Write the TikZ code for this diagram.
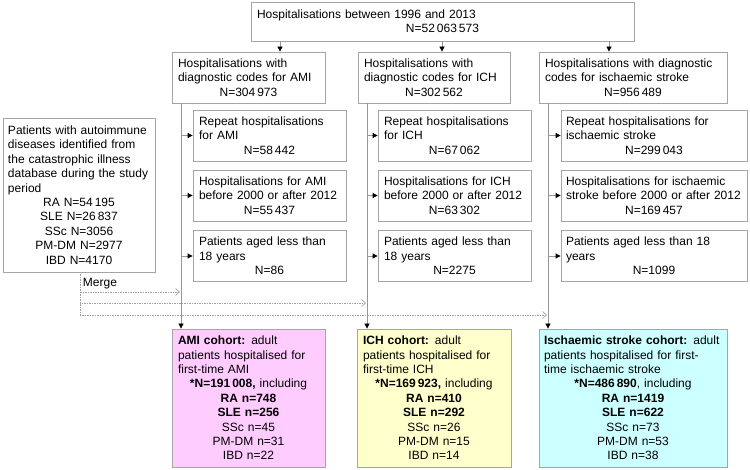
\documentclass[tikz,border=0pt]{standalone}
\usepackage{fontspec}
\setmainfont{Liberation Sans}
\usetikzlibrary{arrows.meta}
\definecolor{boxgray}{RGB}{165,165,165}
\definecolor{linegray}{RGB}{150,150,150}
\definecolor{dashgray}{RGB}{160,160,160}
\definecolor{amifill}{RGB}{255,204,255}
\definecolor{ichfill}{RGB}{255,255,204}
\definecolor{iscfill}{RGB}{204,255,255}
\newcommand\myfs{\fontsize{12}{14.4}\selectfont}
\begin{document}
\begin{tikzpicture}[x=1pt,y=-1pt,
  bx/.style={draw=boxgray, line width=0.8pt, fill=white, inner ysep=0pt, inner xsep=6pt, font=\myfs, anchor=center},
  conn/.style={draw=linegray, line width=0.8pt, -{Triangle[length=5pt,width=5pt,black]}},
  mergeline/.style={draw=dashgray, line width=0.6pt, dash pattern=on 1.5pt off 1pt, -{Straight Barb[length=4pt,width=7pt,line width=0.6pt]}}
]
\useasboundingbox (0,0) rectangle (750,470);

% top box
\node[bx, minimum width=383pt, minimum height=39pt, text width=371pt] (top) at (442.5,21.5)
  {\raggedright Hospitalisations between 1996 and 2013\par\centering N=52\,063\,573\par};

% column boxes
\node[bx, minimum width=153pt, minimum height=51pt, text width=141pt] (ami) at (248.5,77.5)
  {\raggedright Hospitalisations with\\diagnostic codes for AMI\par\centering N=304\,973\par};
\node[bx, minimum width=152pt, minimum height=51pt, text width=140pt] (ich) at (434,77.5)
  {\raggedright Hospitalisations with\\diagnostic codes for ICH\par\centering N=302\,562\par};
\node[bx, minimum width=188pt, minimum height=51pt, text width=176pt] (isc) at (633,77.5)
  {\raggedright Hospitalisations with diagnostic\\codes for ischaemic stroke\par\centering N=956\,489\par};

% sub boxes AMI
\node[bx, minimum width=153pt, minimum height=51pt, text width=141pt] (sa1) at (269.5,135.5)
  {\raggedright Repeat hospitalisations\\for AMI\par\centering N=58\,442\par};
\node[bx, minimum width=153pt, minimum height=51pt, text width=141pt] (sa2) at (269.5,195.5)
  {\raggedright Hospitalisations for AMI\\before 2000 or after 2012\par\centering N=55\,437\par};
\node[bx, minimum width=153pt, minimum height=51pt, text width=141pt] (sa3) at (269.5,256)
  {\raggedright Patients aged less than\\18 years\par\centering N=86\par};

% sub boxes ICH
\node[bx, minimum width=153pt, minimum height=51pt, text width=141pt] (sb1) at (454.5,135.5)
  {\raggedright Repeat hospitalisations\\for ICH\par\centering N=67\,062\par};
\node[bx, minimum width=153pt, minimum height=51pt, text width=141pt] (sb2) at (454.5,195.5)
  {\raggedright Hospitalisations for ICH\\before 2000 or after 2012\par\centering N=63\,302\par};
\node[bx, minimum width=153pt, minimum height=51pt, text width=141pt] (sb3) at (454.5,256)
  {\raggedright Patients aged less than\\18 years\par\centering N=2275\par};

% sub boxes ischaemic stroke
\node[bx, minimum width=186pt, minimum height=51pt, text width=176pt, inner xsep=5pt] (sc1) at (654,135.5)
  {\raggedright Repeat hospitalisations for\\ischaemic stroke\par\centering N=299\,043\par};
\node[bx, minimum width=186pt, minimum height=51pt, text width=176pt, inner xsep=5pt] (sc2) at (654,195.5)
  {\raggedright Hospitalisations for ischaemic\\\mbox{stroke before 2000 or after 2012}\par\centering N=169\,457\par};
\node[bx, minimum width=186pt, minimum height=51pt, text width=176pt, inner xsep=5pt] (sc3) at (654,256)
  {\raggedright Patients aged less than 18\\years\par\centering N=1099\par};

% left box
\node[bx, minimum width=152pt, minimum height=154pt, text width=142pt, inner xsep=5pt] (left) at (79,195)
  {\raggedright Patients with autoimmune\\diseases identified from\\the catastrophic illness\\\mbox{database during the study}\\period\par
   \centering RA N=54\,195\\SLE N=26\,837\\SSc N=3056\\PM-DM N=2977\\IBD N=4170\par};

% cohort boxes
\node[bx, fill=amifill, minimum width=153pt, minimum height=138pt, text width=141pt] (amic) at (248.5,398)
  {\raggedright\textbf{AMI cohort:} adult\\patients hospitalised for\\first-time AMI\par
   \centering\textbf{*N=191\,008,} including\\\textbf{RA n=748}\\\textbf{SLE n=256}\\SSc n=45\\PM-DM n=31\\IBD n=22\par};
\node[bx, fill=ichfill, minimum width=154pt, minimum height=138pt, text width=142pt] (ichc) at (434,398)
  {\raggedright\textbf{ICH cohort:} adult\\patients hospitalised for\\first-time ICH\par
   \centering\textbf{*N=169\,923,} including\\\textbf{RA n=410}\\\textbf{SLE n=292}\\SSc n=26\\PM-DM n=15\\IBD n=14\par};
\node[bx, fill=iscfill, minimum width=188pt, minimum height=138pt, text width=178pt, inner xsep=5pt] (iscc) at (633,398)
  {\raggedright\mbox{\textbf{Ischaemic stroke cohort:} adult}\\patients hospitalised for first-\\time ischaemic stroke\par
   \centering\textbf{*N=486\,890}, including\\\textbf{RA n=1419}\\\textbf{SLE n=622}\\SSc n=73\\PM-DM n=53\\IBD n=38\par};

% coordinates for connector positions
\coordinate (tA) at (280,0);
\coordinate (tB) at (442,0);
\coordinate (tC) at (609,0);
\coordinate (vA) at (181,0);
\coordinate (vB) at (367,0);
\coordinate (vC) at (548,0);

% top arrows
\draw[conn] (tA |- top.south) -- (tA |- ami.north);
\draw[conn] (tB |- top.south) -- (tB |- ich.north);
\draw[conn] (tC |- top.south) -- (tC |- isc.north);

% vertical trunks
\draw[conn] (vA |- ami.south) -- (vA |- amic.north);
\draw[conn] (vB |- ich.south) -- (vB |- ichc.north);
\draw[conn] (vC |- isc.south) -- (vC |- iscc.north);

% side arrows
\foreach \s in {sa1,sa2,sa3} \draw[conn] (vA |- \s.west) -- (\s.west);
\foreach \s in {sb1,sb2,sb3} \draw[conn] (vB |- \s.west) -- (\s.west);
\foreach \s in {sc1,sc2,sc3} \draw[conn] (vC |- \s.west) -- (\s.west);

% merge lines
\coordinate (d1) at (180,292);
\coordinate (d2) at (366,303);
\coordinate (d3) at (547,315);
\coordinate (m0) at (80,272);
\draw[mergeline] (m0) |- (d1);
\draw[mergeline] (m0) |- (d2);
\draw[mergeline] (m0) |- (d3);
\node[font=\myfs, inner sep=0pt] (merge) at (100,284) {Merge};
\end{tikzpicture}
\end{document}
